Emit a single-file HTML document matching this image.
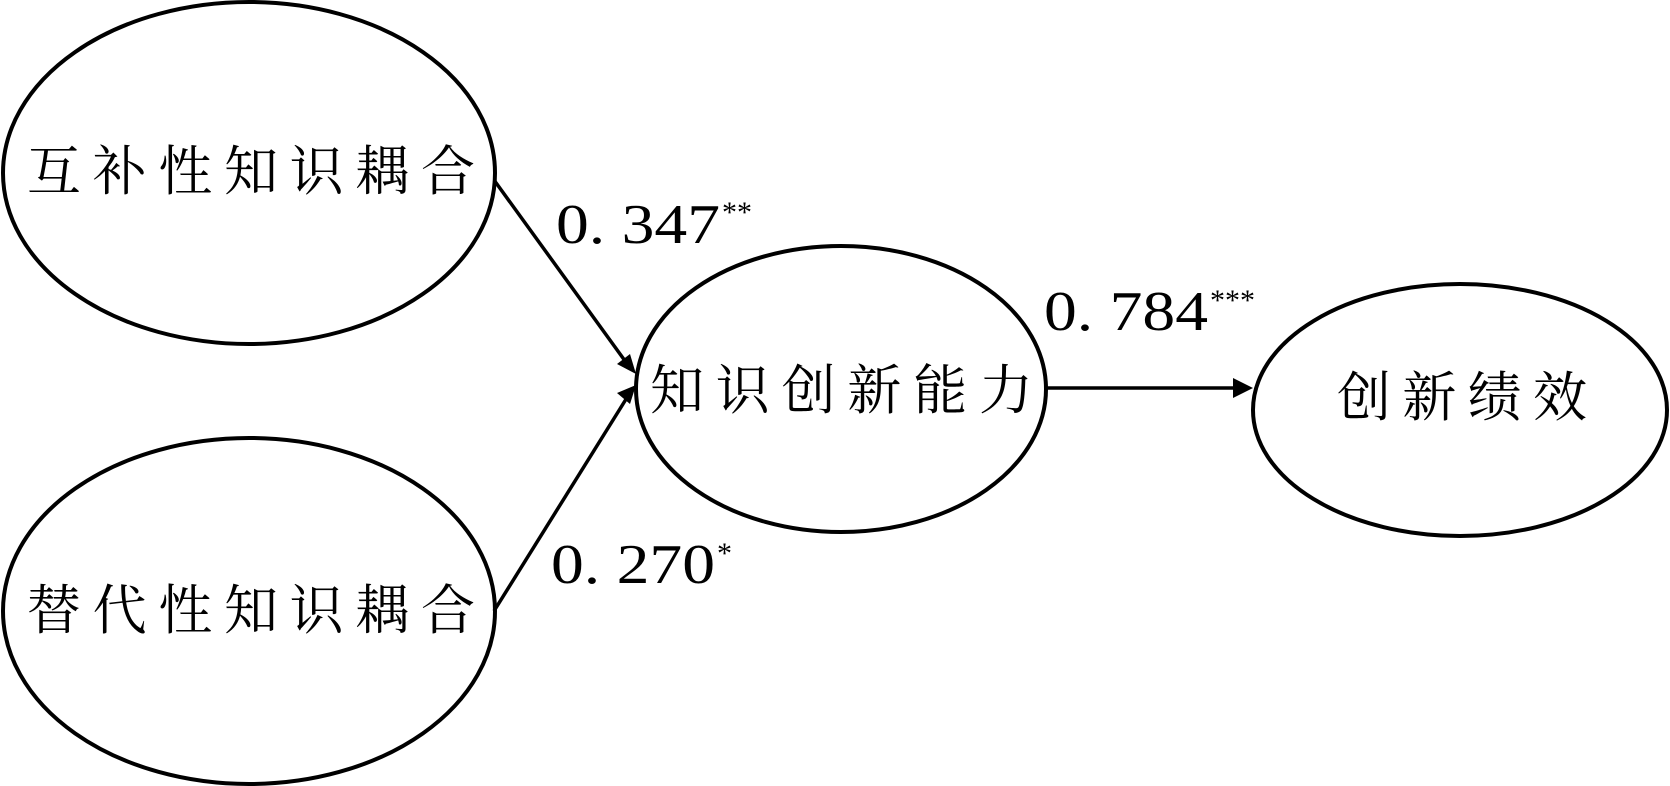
<!DOCTYPE html>
<html><head><meta charset="utf-8"><style>
html,body{margin:0;padding:0;background:#fff;}
svg{display:block;}
.c{font-family:"Liberation Serif","Noto Serif CJK SC","Noto Sans CJK SC",serif;font-size:54px;fill:#000;}
.n{font-family:"Liberation Serif",serif;font-size:56px;fill:#000;}
.s{font-family:"Liberation Serif",serif;font-size:30px;fill:#000;}
</style></head><body>
<svg width="1670" height="786" viewBox="0 0 1670 786" xmlns="http://www.w3.org/2000/svg">
<g fill="none" stroke="#000" stroke-width="4">
<ellipse cx="249" cy="173" rx="246" ry="171"/>
<ellipse cx="249" cy="611" rx="246" ry="173"/>
<ellipse cx="841" cy="389" rx="205" ry="143"/>
<ellipse cx="1460" cy="410" rx="207" ry="126"/>
</g>
<g stroke="#000" stroke-width="3.5">
<line x1="494" y1="180" x2="628" y2="365"/>
<line x1="494" y1="611" x2="628" y2="396"/>
<line x1="1046" y1="388" x2="1235" y2="388"/>
</g>
<g fill="#000">
<polygon points="636,374 617,364 630,354"/>
<polygon points="636,385 617,393 630,404"/>
<polygon points="1253,388 1233,378 1233,398"/>
</g>
<text class="c" x="27" y="172" dominant-baseline="central" textLength="448" lengthAdjust="spacing">互补性知识耦合</text>
<text class="c" x="27" y="611" dominant-baseline="central" textLength="448" lengthAdjust="spacing">替代性知识耦合</text>
<text class="c" x="650" y="391" dominant-baseline="central" textLength="383" lengthAdjust="spacing">知识创新能力</text>
<text class="c" x="1337" y="398" dominant-baseline="central" textLength="250" lengthAdjust="spacing">创新绩效</text>
<text class="n" x="556" y="243" textLength="164" lengthAdjust="spacingAndGlyphs">0. 347</text>
<text class="s" x="722" y="222">**</text>
<text class="n" x="1044" y="330" textLength="164" lengthAdjust="spacingAndGlyphs">0. 784</text>
<text class="s" x="1210" y="310">***</text>
<text class="n" x="551" y="583" textLength="164" lengthAdjust="spacingAndGlyphs">0. 270</text>
<text class="s" x="717" y="563">*</text>
</svg>
</body></html>
